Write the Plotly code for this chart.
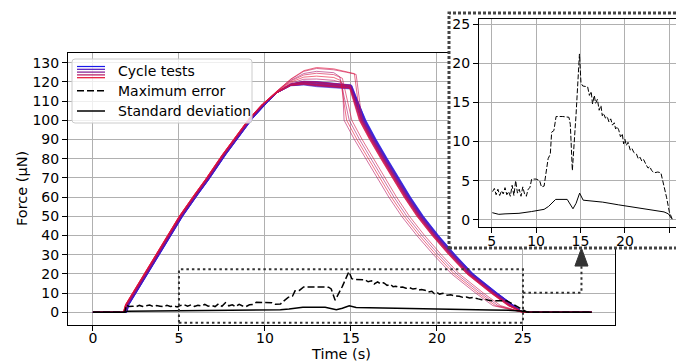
import plotly.graph_objects as go

W, H = 676, 363

# ---------------- data ----------------
# typical cycle profile: rise, top plateau, fall (time s, force uN)
T_RISE = [0.0, 1.85, 1.98, 3.0, 4.0, 5.1, 6.0, 6.61, 7.6, 8.4, 9.17, 9.94]
F_RISE = [0.0, 0.0, 4.0, 19.0, 34.0, 50.0, 61.5, 69.0, 82.0, 91.5, 101.0, 108.5]
T_TOP = [10.7, 11.5, 12.26, 13.0, 14.0, 14.75]
F_TOP = [114.5, 118.5, 119.5, 119.0, 118.3, 117.8]
W_TOP = [0.1, 0.35, 0.75, 1.0, 1.0, 0.9]
F_TOP_END = 117.5
T_FALL = [15.65, 16.25, 16.9, 17.58, 18.25, 19.0, 19.88, 20.85, 21.9, 23.3, 24.3]
F_FALL = [100.0, 90.0, 80.0, 70.0, 60.0, 50.0, 40.0, 30.0, 20.0, 10.0, 3.5]
T_REST = [25.0, 29.0]
F_REST = [0.0, 0.0]

# per-cycle deviations from the typical profile (30 cycles, blue -> red)
LOAD_DT = [0.12, 0.11, 0.10, 0.10, 0.09, 0.08, 0.07, 0.07, 0.06, 0.05,
           0.05, 0.04, 0.03, 0.03, 0.02, 0.01, 0.0, 0.0, -0.01, -0.02,
           -0.03, -0.03, -0.04, -0.05, -0.05, -0.06, -0.07, -0.08, -0.08, -0.09]
PEAK_DF = [-1.0, 0.5, -0.5, 1.0, -1.5, 0.0, 0.8, -0.8, 0.3, -0.3,
           1.2, -1.2, 0.6, -0.6, 0.0, 1.0, -1.0, 0.4, -0.4, 0.9,
           6.5, -0.9, 2.5, -0.2, 8.0, 0.7, 5.5, -0.7, 8.5, 4.0]
TOP_END = [15.05, 15.05, 15.04, 15.04, 15.03, 15.03, 15.02, 15.02, 15.01, 15.0,
           15.0, 14.99, 14.99, 14.98, 14.98, 14.97, 14.97, 14.96, 14.96, 14.95,
           14.35, 14.94, 14.5, 14.93, 15.3, 14.92, 14.5, 14.91, 15.2, 14.4]
FALL_DT = [0.22, 0.20, 0.18, 0.17, 0.15, 0.14, 0.12, 0.11, 0.09, 0.08,
           0.06, 0.05, 0.03, 0.02, 0.0, -0.01, -0.03, -0.04, -0.06, -0.07,
           -0.75, -0.10, -1.05, -0.13, 0.0, -0.15, -0.6, -0.17, -0.1, -0.9]

# maximum error
T_MAXERR = [0.0, 1.85, 1.95, 2.1, 2.3, 2.5, 2.7, 2.9, 3.1, 3.3,
            3.5, 3.7, 3.9, 4.1, 4.3, 4.5, 4.7, 4.9, 5.1, 5.3,
            5.5, 5.7, 5.9, 6.1, 6.3, 6.5, 6.7, 6.9, 7.1, 7.3,
            7.5, 7.7, 7.9, 8.1, 8.3, 8.5, 8.7, 8.9, 9.1, 9.3,
            9.5, 10.0, 10.4, 10.6, 10.9, 11.05, 11.35, 11.6, 11.75, 12.0,
            12.25, 13.0, 13.7, 13.85, 14.08, 14.5, 14.88, 15.05, 15.25, 15.8,
            16.0, 16.2, 16.35, 16.55, 16.7, 16.9, 17.1, 17.3, 17.45, 17.6,
            17.8, 18.0, 18.2, 18.4, 18.6, 18.8, 18.95, 19.1, 19.3, 19.5,
            19.7, 19.85, 20.0, 20.15, 20.35, 20.6, 20.8, 21.0, 21.3, 21.5,
            21.7, 21.9, 22.1, 22.4, 22.6, 22.8, 23.0, 23.3, 23.7, 24.05,
            24.4, 24.7, 25.0, 25.2, 25.35, 29.0]
F_MAXERR = [0, 0, 3.8, 3.0, 3.2, 2.9, 3.6, 3.1, 3.4, 3.8,
            3.0, 3.5, 3.2, 2.9, 3.6, 3.0, 3.3, 2.8, 3.6, 4.0,
            3.2, 3.9, 3.1, 3.7, 3.3, 4.1, 3.2, 3.6, 3.0, 4.4,
            3.1, 5.0, 3.4, 3.9, 3.0, 4.2, 3.3, 3.0, 3.9, 4.1,
            5.2, 5.2, 5.0, 4.2, 4.3, 5.6, 7.8, 8.4, 11.2, 11.4,
            13.2, 13.2, 13.1, 12.2, 6.3, 13.5, 21.2, 17.5, 17.1, 17.0,
            15.9, 16.4, 14.8, 15.9, 14.9, 15.4, 14.0, 14.6, 13.3, 13.6,
            13.0, 13.2, 12.5, 12.9, 12.1, 12.4, 11.6, 11.9, 11.5, 10.6,
            11.0, 9.7, 10.3, 9.5, 9.9, 8.9, 9.1, 8.6, 8.4, 7.8,
            8.0, 7.5, 7.7, 7.0, 6.6, 6.8, 6.3, 6.0, 6.1, 6.0,
            4.4, 2.8, 1.0, 0.3, 0, 0]

# standard deviation
T_STD = [0.0, 1.85, 2.0, 3.0, 4.0, 5.07, 5.5, 5.8, 6.5, 8.07,
         9.5, 10.9, 11.4, 12.2, 13.5, 14.15, 14.5, 14.9, 15.3, 17.5,
         19.3, 21.0, 23.1, 24.4, 24.9, 25.25, 29.0]
F_STD = [0, 0, 0.6, 0.7, 0.75, 0.9, 0.8, 0.69, 0.75, 0.82,
         1.05, 1.33, 1.7, 2.6, 2.6, 1.4, 2.1, 3.4, 2.5, 2.25,
         1.9, 1.6, 1.24, 1.0, 0.75, 0.15, 0]

X_TICKS = [0, 5, 10, 15, 20, 25]
Y_TICKS = list(range(0, 131, 10))
INSET_X_TICKS = [5, 10, 15, 20, 25]
INSET_Y_TICKS = [0, 5, 10, 15, 20, 25]
ZOOM_T = [5, 25]          # zoomed window (time)
ZOOM_F = [-5.4, 22.4]     # zoomed window (force)

LEGEND_LABELS = ["Cycle tests", "Maximum error", "Standard deviation"]

# ---------------- helpers ----------------
FONT = "DejaVu Sans"
TICK_FS = 14
LEG_FS = 14
TITLE_FS = 14.5


def X(px):
    return px / W


def Y(py):
    return 1 - py / H


def cycle_color(i, n, a):
    c = i / (n - 1)
    r = 25 + (232 - 25) * c
    g = 25 + (15 - 25) * c
    b = 235 + (50 - 235) * c
    return f"rgba({r:.0f},{g:.0f},{b:.0f},{a})"


fig = go.Figure()
N = len(LOAD_DT)

for i in range(N):
    ts = [T_RISE[0]] + [t + LOAD_DT[i] for t in T_RISE[1:]]
    fs = list(F_RISE)
    for t, f, w in zip(T_TOP, F_TOP, W_TOP):
        if t < TOP_END[i]:
            ts.append(t)
            fs.append(f + w * PEAK_DF[i])
    ts.append(TOP_END[i])
    fs.append(F_TOP_END + PEAK_DF[i] * 0.8)
    ts += [t + FALL_DT[i] for t in T_FALL]
    fs += F_FALL
    ts += T_REST
    fs += F_REST
    fig.add_trace(go.Scatter(x=ts, y=fs, mode="lines", xaxis="x", yaxis="y",
                             line=dict(color=cycle_color(i, N, 0.6), width=1),
                             showlegend=False, hoverinfo="skip"))

fig.add_trace(go.Scatter(x=T_MAXERR, y=F_MAXERR, mode="lines", xaxis="x", yaxis="y",
                         line=dict(color="black", width=1.5, dash="7px,3px"),
                         showlegend=False))
fig.add_trace(go.Scatter(x=T_STD, y=F_STD, mode="lines", xaxis="x", yaxis="y",
                         line=dict(color="black", width=1.5), showlegend=False))

# white panel behind the inset
fig.add_trace(go.Scatter(x=[0, 1, 1, 0, 0], y=[0, 0, 1, 1, 0], mode="lines",
                         fill="toself", fillcolor="white", line=dict(width=0),
                         xaxis="x2", yaxis="y2", showlegend=False, hoverinfo="skip"))


# inset
def window(ts, fs):
    sel = [(t, f) for t, f in zip(ts, fs) if ZOOM_T[0] <= t <= 25.4]
    return [p[0] for p in sel], [p[1] for p in sel]


ti, fi = window(T_MAXERR, F_MAXERR)
fig.add_trace(go.Scatter(x=ti, y=fi, mode="lines", xaxis="x3", yaxis="y3",
                         line=dict(color="black", width=1, dash="5px,2px"),
                         showlegend=False))
ti, fi = window(T_STD, F_STD)
fig.add_trace(go.Scatter(x=ti, y=fi, mode="lines", xaxis="x3", yaxis="y3",
                         line=dict(color="black", width=1), showlegend=False))

axis_common = dict(showgrid=True, gridcolor="#b0b0b0", gridwidth=0.8,
                   showline=True, linecolor="black", linewidth=1, automargin=False,
                   ticks="outside", ticklen=5, tickcolor="black", zeroline=False,
                   tickfont=dict(family=FONT, size=TICK_FS, color="black"))

fig.update_layout(
    width=W, height=H, margin=dict(l=0, r=0, t=0, b=0, autoexpand=False),
    paper_bgcolor="white", plot_bgcolor="white", showlegend=False,
    xaxis=dict(domain=[X(68), X(615)], range=[-1.45, 30.35], tickvals=X_TICKS,
               mirror=True, anchor="y", ticklabelstandoff=-5, **axis_common),
    yaxis=dict(domain=[Y(325), Y(53)], range=[-6.6, 135.05], tickvals=Y_TICKS,
               mirror=True, anchor="x", **axis_common),
    xaxis2=dict(domain=[X(449), 1], range=[0, 1], visible=False, anchor="y2",
                automargin=False),
    yaxis2=dict(domain=[Y(248), Y(13)], range=[0, 1], visible=False, anchor="x2",
                automargin=False),
    xaxis3=dict(domain=[X(479), 1], range=[3.57, 25.75], tickvals=INSET_X_TICKS,
                mirror=True, anchor="y3", ticklabelstandoff=-4, **axis_common),
    yaxis3=dict(domain=[Y(227), Y(19)], range=[-0.93, 25.67], tickvals=INSET_Y_TICKS,
                mirror=False, anchor="x3", **axis_common),
)

shapes = []
dotted = dict(color="#333333", width=2, dash="2.5px,3px")
# zoom window on main axes
shapes.append(dict(type="rect", xref="x", yref="y", x0=ZOOM_T[0], x1=ZOOM_T[1],
                   y0=ZOOM_F[0], y1=ZOOM_F[1], line=dotted, layer="above"))
# connector to the inset
shapes.append(dict(type="path", xref="x", yref="y",
                   path="M 25,10.2 L 28.4,10.2 L 28.4,24.1", line=dotted, layer="above"))
shapes.append(dict(type="path", xref="x", yref="y",
                   path="M 28.02,24.1 L 28.78,24.1 L 28.4,33.4 Z",
                   fillcolor="#333333", line=dict(color="#333333", width=1), layer="above"))
# inset frame
shapes.append(dict(type="rect", xref="paper", yref="paper", x0=X(449), x1=X(690),
                   y0=Y(248), y1=Y(13),
                   line=dict(color="#444444", width=3, dash="3px,2px"), layer="above"))

# legend box (rounded)
lx0, ly0, lx1, ly1, r = 72, 59, 252, 123, 3
path = (f"M {X(lx0 + r)},{Y(ly0)} L {X(lx1 - r)},{Y(ly0)} Q {X(lx1)},{Y(ly0)} {X(lx1)},{Y(ly0 + r)} "
        f"L {X(lx1)},{Y(ly1 - r)} Q {X(lx1)},{Y(ly1)} {X(lx1 - r)},{Y(ly1)} "
        f"L {X(lx0 + r)},{Y(ly1)} Q {X(lx0)},{Y(ly1)} {X(lx0)},{Y(ly1 - r)} "
        f"L {X(lx0)},{Y(ly0 + r)} Q {X(lx0)},{Y(ly0)} {X(lx0 + r)},{Y(ly0)} Z")
shapes.append(dict(type="path", xref="paper", yref="paper", path=path,
                   fillcolor="rgba(255,255,255,0.8)", line=dict(color="#cccccc", width=1),
                   layer="above"))
hx0, hx1 = 77, 105
for k in range(5):
    yy = 66.5 + 2.8 * k
    shapes.append(dict(type="line", xref="paper", yref="paper", x0=X(hx0), x1=X(hx1),
                       y0=Y(yy), y1=Y(yy), line=dict(color=cycle_color(k * 7.25, 30, 1), width=1.2),
                       layer="above"))
shapes.append(dict(type="line", xref="paper", yref="paper", x0=X(hx0), x1=X(hx1),
                   y0=Y(90.7), y1=Y(90.7), line=dict(color="black", width=1.5, dash="7px,3px"),
                   layer="above"))
shapes.append(dict(type="line", xref="paper", yref="paper", x0=X(hx0), x1=X(hx1),
                   y0=Y(111), y1=Y(111), line=dict(color="black", width=1.5), layer="above"))

annotations = []
for lbl, yy in zip(LEGEND_LABELS, [70.7, 90.7, 111]):
    annotations.append(dict(text=lbl, x=X(116), y=Y(yy), xref="paper", yref="paper",
                            xanchor="left", yanchor="middle", showarrow=False,
                            font=dict(family=FONT, size=LEG_FS, color="black")))
annotations.append(dict(text="Force (μN)", x=X(22), y=Y(189), xref="paper", yref="paper",
                        xanchor="center", yanchor="middle", textangle=-90, showarrow=False,
                        font=dict(family=FONT, size=TITLE_FS, color="black")))
annotations.append(dict(text="Time (s)", x=X(341), y=Y(354), xref="paper", yref="paper",
                        xanchor="center", yanchor="middle", showarrow=False,
                        font=dict(family=FONT, size=TITLE_FS, color="black")))

fig.update_layout(shapes=shapes, annotations=annotations)
fig.write_html("out.html", config={"displayModeBar": False},
               post_script="document.body.style.margin='0';document.body.style.padding='0';")
